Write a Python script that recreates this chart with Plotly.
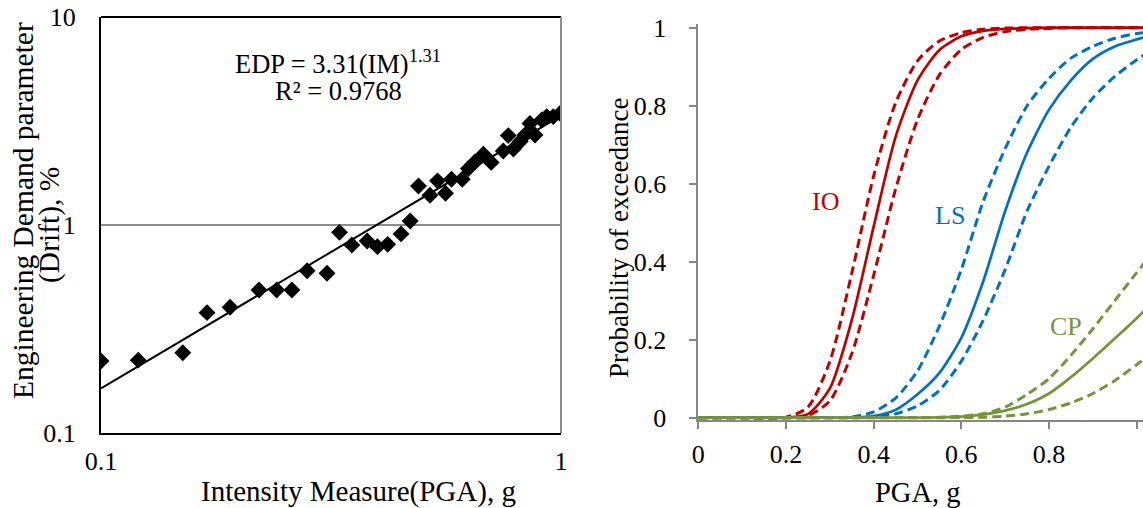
import plotly.graph_objects as go

W, H = 1143, 508
FONT = "Liberation Serif, Times New Roman, serif"

# ---------------- Left panel: probabilistic seismic demand model ----------------
im_pga = [0.100, 0.1205, 0.1506, 0.170, 0.1908, 0.2206, 0.241, 0.260, 0.2806, 0.310,
          0.330, 0.351, 0.379, 0.399, 0.420, 0.449, 0.470, 0.490, 0.519, 0.539,
          0.561, 0.578, 0.610, 0.629, 0.650, 0.678, 0.705, 0.749, 0.768, 0.788,
          0.815, 0.835, 0.856, 0.878, 0.908, 0.931, 0.962, 0.995]
edp_drift = [0.222, 0.224, 0.243, 0.379, 0.402, 0.487, 0.487, 0.487, 0.603, 0.586,
             0.922, 0.801, 0.838, 0.787, 0.807, 0.906, 1.046, 1.54, 1.39, 1.63,
             1.42, 1.66, 1.66, 1.87, 2.01, 2.19, 2.00, 2.27, 2.69, 2.32,
             2.52, 2.71, 3.08, 2.71, 3.20, 3.32, 3.32, 3.44]
fit_im = [0.1, 1.0]
fit_edp = [0.164, 3.35]
left_x_ticks = [0.1, 1]
left_x_ticktext = ["0.1", "1"]
left_y_ticks = [0.1, 1, 10]
left_y_ticktext = ["0.1", "1", "10"]

# ---------------- Right panel: fragility curves ----------------
pga = [0, 0.1, 0.2, 0.25, 0.3, 0.35, 0.4, 0.45, 0.5, 0.55, 0.6, 0.65, 0.7, 0.75,
       0.8, 0.85, 0.9, 0.95, 1.0, 1.02]
io_med = [0, 0, 0.0003, 0.009, 0.075, 0.25, 0.49, 0.72, 0.865, 0.943, 0.978, 0.992,
          0.997, 0.999, 1, 1, 1, 1, 1, 1]
io_up = [0, 0, 0.0015, 0.027, 0.144, 0.37, 0.62, 0.807, 0.915, 0.966, 0.987, 0.996,
         0.999, 1, 1, 1, 1, 1, 1, 1]
io_lo = [0, 0, 0, 0.005, 0.043, 0.164, 0.365, 0.586, 0.764, 0.879, 0.944, 0.975,
         0.99, 0.996, 0.998, 1, 1, 1, 1, 1]
ls_med = [0, 0, 0, 0, 0, 0, 0.004, 0.02, 0.06, 0.115, 0.205, 0.35, 0.53, 0.68,
          0.79, 0.865, 0.92, 0.952, 0.97, 0.976]
ls_up = [0, 0, 0, 0, 0, 0.002, 0.015, 0.05, 0.12, 0.235, 0.38, 0.555, 0.69, 0.8,
         0.87, 0.922, 0.952, 0.973, 0.985, 0.988]
ls_lo = [0, 0, 0, 0, 0, 0, 0.002, 0.01, 0.03, 0.07, 0.145, 0.25, 0.38, 0.53,
         0.645, 0.745, 0.82, 0.875, 0.918, 0.932]
cp_med = [0, 0, 0, 0, 0, 0, 0, 0, 0, 0.001, 0.003, 0.008, 0.018, 0.035,
          0.062, 0.104, 0.152, 0.203, 0.255, 0.278]
cp_up = [0, 0, 0, 0, 0, 0, 0, 0, 0, 0.001, 0.004, 0.01, 0.027, 0.06,
         0.1, 0.16, 0.228, 0.3, 0.372, 0.4]
cp_lo = [0, 0, 0, 0, 0, 0, 0, 0, 0, 0, 0.0005, 0.001, 0.004, 0.01,
         0.021, 0.038, 0.062, 0.095, 0.136, 0.153]
right_ticks = [0, 0.2, 0.4, 0.6, 0.8, 1]
right_ticktext = ["0", "0.2", "0.4", "0.6", "0.8", "1"]

RED, BLUE, GREEN = "#C00000", "#0070C0", "#77933C"
GRAY = "#868686"

fig = go.Figure()

fig.add_trace(go.Scatter(x=fit_im, y=fit_edp, mode="lines",
                         line=dict(color="black", width=2),
                         xaxis="x", yaxis="y", showlegend=False, hoverinfo="skip"))
fig.add_trace(go.Scatter(x=im_pga, y=edp_drift, mode="markers",
                         marker=dict(symbol="diamond", size=13, color="black"),
                         xaxis="x", yaxis="y", showlegend=False))

curves = [
    (io_up, RED, "9px,5px"), (io_lo, RED, "9px,5px"), (io_med, RED, "solid"),
    (ls_up, BLUE, "9px,5px"), (ls_lo, BLUE, "9px,5px"), (ls_med, BLUE, "solid"),
    (cp_up, GREEN, "9px,5px"), (cp_lo, GREEN, "9px,5px"), (cp_med, GREEN, "solid"),
]
for vals, col, dash in curves:
    fig.add_trace(go.Scatter(x=pga, y=vals, mode="lines",
                             line=dict(color=col, width=3 if dash != "solid" else 2.7,
                                       dash=dash, shape="spline", smoothing=0.7),
                             xaxis="x2", yaxis="y2", showlegend=False))

xr_end = (W - 698.3) / 438.4
y2_bot, y2_top = 417.7 + 0.005 * 390, 417.7 - 1.01 * 390

fig.update_layout(
    width=W, height=H,
    margin=dict(l=0, r=0, t=0, b=0, autoexpand=False),
    paper_bgcolor="white", plot_bgcolor="rgba(0,0,0,0)",
    font=dict(family=FONT, size=26, color="black"),
    xaxis=dict(type="log", range=[-1, 0], domain=[101 / W, 561 / W], anchor="y",
               automargin=False,
               showline=True, linecolor="black", linewidth=2, ticks="",
               tickvals=left_x_ticks, ticktext=left_x_ticktext, showgrid=False,
               zeroline=False, ticklabelstandoff=4, tickfont=dict(size=26)),
    yaxis=dict(type="log", range=[-1, 1], domain=[(H - 433) / H, (H - 17) / H], anchor="x",
               automargin=False,
               showline=True, linecolor="black", linewidth=2, ticks="",
               tickvals=left_y_ticks, ticktext=left_y_ticktext, showgrid=True,
               gridcolor="#8c8c8c", gridwidth=2, zeroline=False,
               ticklabelstandoff=18, tickfont=dict(size=26)),
    xaxis2=dict(range=[0, xr_end], domain=[698.3 / W, 1], anchor="y2",
                automargin=False,
                showline=True, linecolor=GRAY, linewidth=1.5, ticks="outside",
                ticklen=8, tickcolor=GRAY, tickwidth=1.5,
                tickvals=right_ticks, ticktext=right_ticktext, showgrid=False,
                zeroline=False, ticklabelstandoff=2, tickfont=dict(size=26)),
    yaxis2=dict(range=[-0.005, 1.01], domain=[(H - y2_bot) / H, (H - y2_top) / H], anchor="x2",
                automargin=False,
                showline=True, linecolor=GRAY, linewidth=1.5, ticks="outside",
                ticklen=8, tickcolor=GRAY, tickwidth=1.5,
                tickvals=right_ticks, ticktext=right_ticktext, showgrid=False,
                zeroline=False, ticklabelstandoff=17, tickfont=dict(size=26)),
    shapes=[
        dict(type="line", xref="x domain", yref="y domain", x0=0, x1=1, y0=1, y1=1,
             line=dict(color="black", width=2)),
        dict(type="line", xref="x domain", yref="y domain", x0=1, x1=1, y0=0, y1=1,
             line=dict(color="#8c8c8c", width=2)),
    ],
)


def ann(text, px, py, size=26, color="black", angle=0):
    fig.add_annotation(text=text, x=px / W, y=1 - py / H, xref="paper", yref="paper",
                       showarrow=False, xanchor="center", yanchor="middle",
                       textangle=angle, font=dict(family=FONT, size=size, color=color))


ann("EDP = 3.31(IM)<sup>1.31</sup>", 338, 62, size=26.5)
ann("R² = 0.9768", 338, 91, size=26.5)
ann("Engineering Demand parameter", 23, 211, size=29.5, angle=-90)
ann("(Drift), %", 49, 225, size=29.5, angle=-90)
ann("Intensity Measure(PGA), g", 358, 491, size=29)
ann("Probability of exceedance", 619, 238, size=27, angle=-90)
ann("PGA, g", 918, 492, size=28.5)
ann("IO", 825, 202, color=RED)
ann("LS", 950, 215, color=BLUE)
ann("CP", 1066, 326, color=GREEN)

fig.write_html("out.html", config={"displayModeBar": False},
               post_script="document.body.style.margin='0';document.body.style.overflow='hidden';")
